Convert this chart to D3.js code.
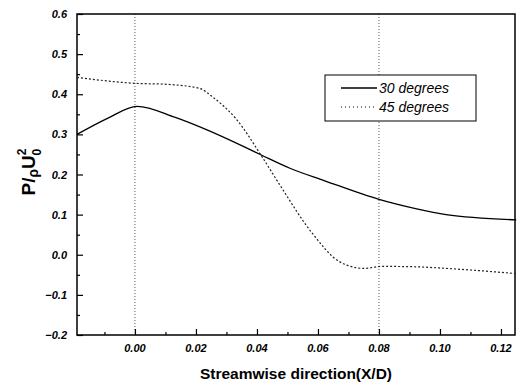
<!DOCTYPE html>
<html>
<head>
<meta charset="utf-8">
<script src="https://cdn.jsdelivr.net/npm/d3@7"></script>
<style>
  body { margin: 0; background: #fff; }
  svg { display: block; }
  .tick-label { font-family: "Liberation Sans", Arial, sans-serif; font-weight: bold; font-style: italic; font-size: 11px; }
</style>
</head>
<body>
<div class="chart"></div>
<script>
// data
var xs30 = [-0.019, -0.009, 0.0007, 0.013, 0.024, 0.035, 0.0416, 0.051, 0.062, 0.080, 0.092, 0.102, 0.125];
var ys30 = [0.300, 0.340, 0.370, 0.343, 0.310, 0.272, 0.248, 0.215, 0.185, 0.138, 0.115, 0.100, 0.087];
var xs45 = [-0.019, 0.0007, 0.0098, 0.021, 0.026, 0.033, 0.0416, 0.047, 0.058, 0.067, 0.075, 0.081, 0.092, 0.102, 0.125];
var ys45 = [0.442, 0.427, 0.425, 0.415, 0.390, 0.340, 0.245, 0.180, 0.055, -0.017, -0.034, -0.029, -0.030, -0.034, -0.047];
var seriesNames = ["30 degrees", "45 degrees"];
var xTicks = [0.00, 0.02, 0.04, 0.06, 0.08, 0.10, 0.12];
var yTicks = [-0.2, -0.1, 0.0, 0.1, 0.2, 0.3, 0.4, 0.5, 0.6];
var refLines = [0.00, 0.08];

(function() {
    var width = 519, height = 386;
    var plotLeft = 77, plotRight = 515, plotTop = 14, plotBottom = 335;

    var svg = d3.select(".chart")
                .append("svg")
                .attr("width", width)
                .attr("height", height);

    var x = d3.scaleLinear().domain([-0.019, 0.1246]).range([plotLeft, plotRight]);
    var y = d3.scaleLinear().domain([-0.2, 0.6]).range([plotBottom, plotTop]);

    // vertical dotted reference lines
    svg.selectAll(".ref")
       .data(refLines)
       .enter().append("line")
       .attr("x1", function(d) { return x(d) })
       .attr("x2", function(d) { return x(d) })
       .attr("y1", plotTop)
       .attr("y2", plotBottom)
       .attr("stroke", "#555")
       .attr("stroke-width", 1)
       .attr("stroke-dasharray", "1,2");

    // axes, ticks pointing inward
    var xMinor = d3.range(-0.01, 0.125, 0.02);
    var yMinor = d3.range(-0.15, 0.6, 0.1);

    svg.append("g")
       .attr("transform", "translate(0," + plotBottom + ")")
       .call(d3.axisTop(x).tickValues(xMinor).tickSize(3).tickFormat(""))
       .call(function(g) { g.select(".domain").remove() });

    svg.append("g")
       .attr("transform", "translate(" + plotLeft + ",0)")
       .call(d3.axisRight(y).tickValues(yMinor).tickSize(3).tickFormat(""))
       .call(function(g) { g.select(".domain").remove() });

    svg.append("g")
       .attr("transform", "translate(0," + plotBottom + ")")
       .call(d3.axisTop(x).tickValues(xTicks).tickSize(6).tickFormat(""))
       .call(function(g) { g.select(".domain").remove() });

    svg.append("g")
       .attr("transform", "translate(" + plotLeft + ",0)")
       .call(d3.axisRight(y).tickValues(yTicks).tickSize(6).tickFormat(""))
       .call(function(g) { g.select(".domain").remove() });

    svg.selectAll("g line").attr("stroke-width", 1.2);

    // tick labels
    svg.selectAll(".xlab")
       .data(xTicks)
       .enter().append("text")
       .attr("class", "tick-label")
       .attr("x", function(d) { return x(d) })
       .attr("y", 352)
       .attr("text-anchor", "middle")
       .text(function(d) { return d3.format(".2f")(d) });

    svg.selectAll(".ylab")
       .data(yTicks)
       .enter().append("text")
       .attr("class", "tick-label")
       .attr("x", 67)
       .attr("y", function(d) { return y(d) + 4 })
       .attr("text-anchor", "end")
       .text(function(d) { return d3.format(".1f")(d) });

    // frame
    svg.append("rect")
       .attr("x", plotLeft)
       .attr("y", plotTop)
       .attr("width", plotRight - plotLeft)
       .attr("height", plotBottom - plotTop)
       .attr("fill", "none")
       .attr("stroke", "#000")
       .attr("stroke-width", 1.5);

    // curves
    var line = d3.line()
                 .x(function(d) { return x(d[0]) })
                 .y(function(d) { return y(d[1]) })
                 .curve(d3.curveMonotoneX);

    svg.append("path")
       .datum(d3.zip(xs30, ys30))
       .attr("d", line)
       .attr("fill", "none")
       .attr("stroke", "#000")
       .attr("stroke-width", 1.3);

    svg.append("path")
       .datum(d3.zip(xs45, ys45))
       .attr("d", line)
       .attr("fill", "none")
       .attr("stroke", "#222")
       .attr("stroke-width", 1.2)
       .attr("stroke-dasharray", "2,2");

    // legend
    var legend = svg.append("g");
    legend.append("rect")
          .attr("x", 325)
          .attr("y", 75)
          .attr("width", 151)
          .attr("height", 46)
          .attr("fill", "#fff")
          .attr("stroke", "#000")
          .attr("stroke-width", 1);

    var legendRows = legend.selectAll(".row")
          .data(seriesNames)
          .enter().append("g")
          .attr("transform", function(d, i) { return "translate(0," + (88 + i * 19) + ")" });

    legendRows.append("line")
          .attr("x1", 341)
          .attr("x2", 377)
          .attr("stroke", "#000")
          .attr("stroke-width", function(d, i) { return i == 0 ? 1.3 : 1 })
          .attr("stroke-dasharray", function(d, i) { return i == 0 ? null : "1,3" });

    legendRows.append("text")
          .attr("x", 379)
          .attr("y", 5)
          .attr("font-family", "Liberation Sans, Arial, sans-serif")
          .attr("font-style", "italic")
          .attr("font-size", 14)
          .text(function(d) { return d });

    // axis titles
    svg.append("text")
       .attr("x", 296)
       .attr("y", 379)
       .attr("text-anchor", "middle")
       .attr("font-family", "Liberation Sans, Arial, sans-serif")
       .attr("font-weight", "bold")
       .attr("font-size", 15.5)
       .text("Streamwise direction(X/D)");

    var ylab = svg.append("text")
       .attr("transform", "translate(35,172) rotate(-90)")
       .attr("text-anchor", "middle")
       .attr("font-family", "Liberation Sans, Arial, sans-serif")
       .attr("font-weight", "bold")
       .attr("font-size", 19);
    ylab.append("tspan").text("P/");
    ylab.append("tspan").attr("font-size", 14).attr("dy", 3).text("ρ");
    ylab.append("tspan").attr("dy", -3).text("U");
    ylab.append("tspan").attr("font-size", 12).attr("dy", -9).text("2");
    ylab.append("tspan").attr("font-size", 12).attr("dx", -7).attr("dy", 15).text("0");
})();
</script>
</body>
</html>
